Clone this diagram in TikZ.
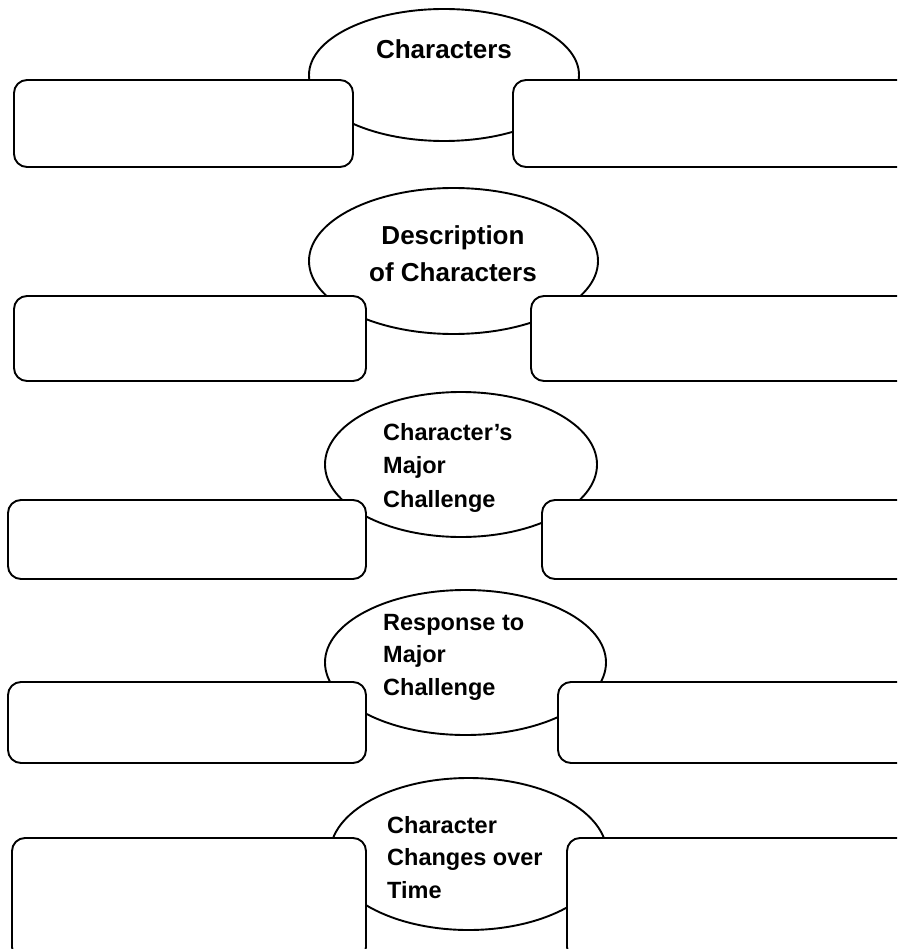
\documentclass[tikz,border=0pt]{standalone}
\usepackage{fontspec}
\setmainfont{Liberation Sans}
\usetikzlibrary{shapes.geometric}
\begin{document}
\begin{tikzpicture}[x=1pt,y=-1pt,
  oval/.style={draw, ellipse, line width=1.9pt, inner sep=0pt},
  card/.style={draw, rectangle, rounded corners=13pt, fill=white, line width=1.9pt, inner sep=0pt},
  bigtxt/.style={font=\bfseries\fontsize{26}{37}\selectfont, align=center, inner sep=0pt},
  smalltxt/.style={font=\bfseries\fontsize{23.5}{32.5}\selectfont, align=left, inner sep=0pt}]
\useasboundingbox (0,0) rectangle (897,949);
\clip (0,0) rectangle (897,949);
% row 1
\node[oval, minimum width=270pt, minimum height=132pt] (e1) at (444,75) {};
\node[card, minimum width=339pt, minimum height=87pt] (l1) at (183.5,123.5) {};
\node[card, minimum width=407pt, minimum height=87pt] (r1) at (716.5,123.5) {};
\node[bigtxt, anchor=base] (t1) at (444,59) {Characters};
% row 2
\node[oval, minimum width=289pt, minimum height=146pt] (e2) at (453.5,261) {};
\node[card, minimum width=352pt, minimum height=85pt] (l2) at (190,338.5) {};
\node[card, minimum width=389pt, minimum height=85pt] (r2) at (725.5,338.5) {};
\node[bigtxt, anchor=base] (t2) at (453,282) {Description\\of Characters};
% row 3
\node[oval, minimum width=272pt, minimum height=145pt] (e3) at (461,464.5) {};
\node[card, minimum width=358pt, minimum height=79pt] (l3) at (187,539.5) {};
\node[card, minimum width=378pt, minimum height=79pt] (r3) at (731,539.5) {};
\begin{scope}
\clip (370,400) rectangle (540,511);
\node[smalltxt, font=\bfseries\fontsize{23.5}{33.5}\selectfont, anchor=base west] (t3) at (383,507) {Character’s\\Major\\Challenge};
\end{scope}
% row 4
\node[oval, minimum width=281pt, minimum height=145pt] (e4) at (465.5,662.5) {};
\node[card, minimum width=358pt, minimum height=81pt] (l4) at (187,722.5) {};
\node[card, minimum width=362pt, minimum height=81pt] (r4) at (739,722.5) {};
\node[smalltxt, anchor=base west] (t4) at (383,695) {Response to\\Major\\Challenge};
% row 5
\node[oval, minimum width=277pt, minimum height=152pt] (e5) at (468.5,854) {};
\node[card, minimum width=354pt, minimum height=122pt] (l5) at (189,899) {};
\node[card, minimum width=353pt, minimum height=122pt] (r5) at (743.5,899) {};
\node[smalltxt, anchor=base west] (t5) at (387,898) {Character\\Changes over\\Time};
\end{tikzpicture}
\end{document}
